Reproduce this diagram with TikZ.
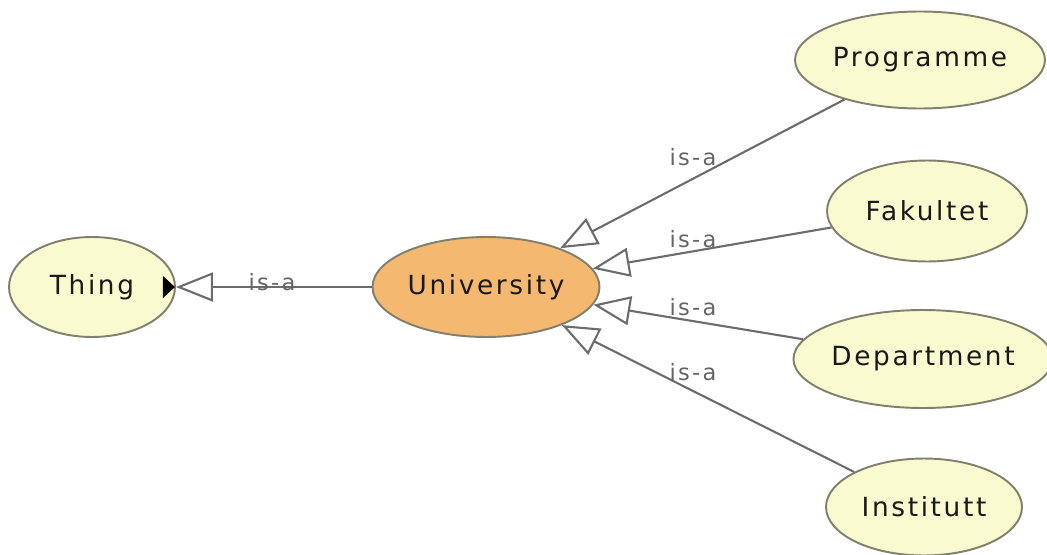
\documentclass[tikz,border=0pt]{standalone}
\usepackage{fontspec}
\setmainfont{DejaVu Sans}
\newfontfamily\classfont[LetterSpace=10]{DejaVu Sans}
\usetikzlibrary{shapes.geometric, arrows.meta}

\definecolor{classfill}{RGB}{250,250,208}
\definecolor{classline}{RGB}{128,128,108}
\definecolor{rootfill}{RGB}{245,184,112}
\definecolor{isaline}{RGB}{108,108,108}
\definecolor{isatext}{RGB}{100,100,100}

\begin{document}
\begin{tikzpicture}[x=0.02cm, y=-0.02cm,
  cls/.style={ellipse, draw=classline, line width=1.1pt, fill=classfill,
    inner sep=0pt, text=black!90, font=\classfont\fontsize{15}{17}\selectfont},
  isa/.style={draw=isaline, line width=1.2pt,
    -{Triangle[open, length=0.74cm, width=0.58cm]}},
  isalbl/.style={text=isatext, inner sep=0pt,
    font=\classfont\fontsize{12.8}{15}\selectfont}]

  % ── Canvas ───────────────────────────────────────────────────────
  \useasboundingbox (0,0) rectangle (1047,554);

  % ── Classes ──────────────────────────────────────────────────────
  \node[cls, minimum width=3.32cm, minimum height=2.0cm]  (thing) at (92,287)  {Thing};
  \node[cls, fill=rootfill, minimum width=4.54cm, minimum height=2.0cm] (univ) at (486,287) {University};
  \node[cls, minimum width=5.0cm,  minimum height=1.94cm] (prog)  at (920,60)  {Programme};
  \node[cls, minimum width=4.0cm,  minimum height=2.02cm] (fak)   at (927,211) {Fakultet};
  \node[cls, minimum width=4.94cm, minimum height=1.96cm] (dep)   at (923,359) {Department};
  \node[cls, minimum width=3.92cm, minimum height=1.94cm] (inst)  at (924,507) {Institutt};

  % expand marker on Thing
  \fill[black] (thing.east) ++(-1,0) -- ++(-12,-11) -- ++(0,22) -- cycle;

  % ── is-a links ───────────────────────────────────────────────────
  \draw[isa] (univ) -- (thing);
  \foreach \c in {prog,fak,dep,inst}{
    \draw[isa] (\c) -- (univ);
  }

  % ── Link labels ──────────────────────────────────────────────────
  \node[isalbl] (lthing) at (272,282) {is-a};
  \foreach \c/\y in {prog/157,fak/239,dep/307,inst/372}{
    \node[isalbl] (l\c) at (693,\y) {is-a};
  }

\end{tikzpicture}
\end{document}
